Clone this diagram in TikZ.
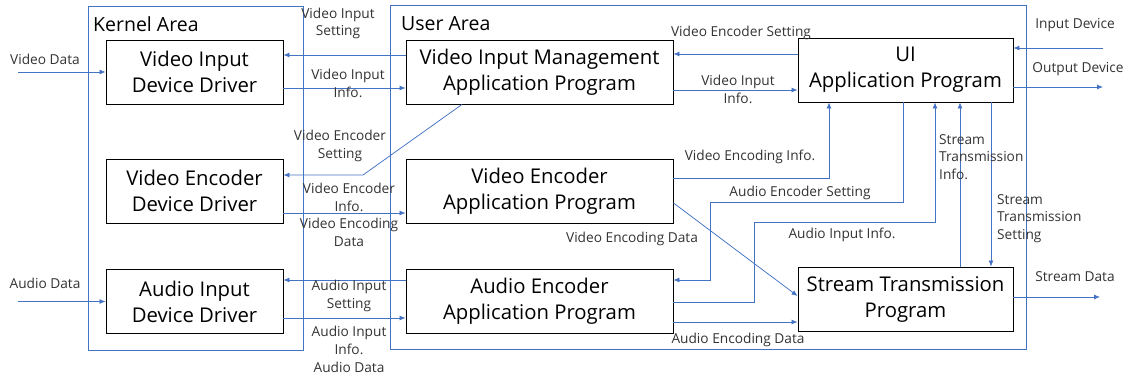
\documentclass[tikz,border=0pt]{standalone}
\usepackage{fontspec}
\setmainfont{Open Sans}
\usetikzlibrary{arrows.meta}
\definecolor{linkblue}{HTML}{4472C4}

\begin{document}
\begin{tikzpicture}[x=1pt, y=-1pt,
    box/.style={draw, line width=0.9pt, minimum height=64pt, inner sep=0pt, align=center, font=\fontsize{20.3}{26}\selectfont},
    lbl/.style={inner sep=0pt, align=center, text=black!80, font=\fontsize{13.7}{17.8}\selectfont},
    link/.style={draw=linkblue, line width=0.75pt, -{Latex[length=6pt,width=5pt]}},
    area/.style={draw=linkblue, line width=0.8pt}]
    \useasboundingbox (0,0) rectangle (1131,379);

        % areas
        \draw[area] (88,6) rectangle (303,350);
        \draw[area] (390,5) rectangle (1026,349);
        \node[anchor=west, inner sep=0pt, font=\fontsize{19.5}{22}\selectfont] (kern) at (93,24) {Kernel Area};
        \node[anchor=west, inner sep=0pt, font=\fontsize{19.5}{22}\selectfont] (user) at (401,24) {User Area};

        % kernel side
        \node[box, minimum width=177pt] (vidd) at (194.5,72) {Video Input\\Device Driver};
        \node[box, minimum width=177pt] (vedd) at (194.5,191) {Video Encoder\\Device Driver};
        \node[box, minimum width=177pt] (aidd) at (194.5,301.5) {Audio Input\\Device Driver};

        % user side
        \node[box, minimum width=267pt] (vimap) at (539.5,72) {Video Input Management\\Application Program};
        \node[box, minimum width=267pt] (veap) at (539.5,191) {Video Encoder\\Application Program};
        \node[box, minimum width=267pt] (aeap) at (539.5,301.5) {Audio Encoder\\Application Program};
        \node[box, minimum width=215pt] (ui) at (905.5,70) {UI\\Application Program};
        \node[box, minimum width=215pt] (stp) at (905.5,299) {Stream Transmission\\Program};

        % outside ends
        \coordinate (vin) at (18,72);
        \coordinate (ain) at (18,301.5);
        \coordinate (idev) at (1103,48);
        \coordinate (odev) at (1103,87);
        \coordinate (sout) at (1100,297);

        \draw[link] (vin) -- (vidd);
        \draw[link] (ain) -- (aidd);
        \draw[link] ([yshift=17pt]vimap.west) -- ([yshift=17pt]vidd.east);
        \draw[link] ([yshift=-16pt]vidd.east) -- ([yshift=-16pt]vimap.west);
        \draw[link] ([xshift=-77.5pt]vimap.south) -- (363,175) -- ([yshift=16pt]vedd.east);
        \draw[link] ([yshift=-22pt]vedd.east) -- ([yshift=-22pt]veap.west);
        \draw[link] ([yshift=21.5pt]aeap.west) -- ([yshift=21.5pt]aidd.east);
        \draw[link] ([yshift=-16.5pt]aidd.east) -- ([yshift=-16.5pt]aeap.west);

        \draw[link] ([yshift=16pt]ui.west) -- ([yshift=18pt]vimap.east);
        \draw[link] ([yshift=-18pt]vimap.east) -- ([yshift=-20pt]ui.west);
        \draw[link] (idev) -- ([yshift=22pt]ui.east);
        \draw[link] ([yshift=-17pt]ui.east) -- (odev);
        \draw[link] ([yshift=13pt]veap.east) -| ([xshift=-76.5pt]ui.south);
        \draw[link] ([xshift=-2.5pt]ui.south) |- (710,202) |- ([yshift=21.5pt]aeap.east);
        \draw[link] ([yshift=-0.5pt]aeap.east) -| (754,222) -| ([xshift=29.5pt]ui.south);
        \draw[link] ([xshift=54.5pt]stp.north) -- ([xshift=54.5pt]ui.south);
        \draw[link] ([xshift=85.5pt]ui.south) -- ([xshift=85.5pt]stp.north);
        \draw[link] ([yshift=-12pt]veap.east) -- ([yshift=3pt]stp.west);
        \draw[link] ([yshift=-20.5pt]aeap.east) -- ([yshift=-20.5pt]aeap.east -| stp.west);
        \draw[link] ([yshift=2pt]stp.east) -- (sout);

        % labels
        \node[lbl] (lvd) at (45,59) {Video Data};
        \node[lbl] (lad) at (45,283) {Audio Data};
        \node[lbl] (lvis) at (338,23.5) {Video Input\\Setting};
        \node[lbl] (lvii) at (348,83.5) {Video Input\\Info.};
        \node[lbl] (lves) at (340,146) {Video Encoder\\Setting};
        \node[lbl] (lvei) at (349,197) {Video Encoder\\Info.};
        \node[lbl] (lved) at (349,232.5) {Video Encoding\\Data};
        \node[lbl] (lais) at (349,296) {Audio Input\\Setting};
        \node[lbl] (laii) at (349,349.5) {Audio Input\\Info.\\Audio Data};
        \node[lbl] (lves2) at (741,33) {Video Encoder Setting};
        \node[lbl] (lvii2) at (738,89) {Video Input\\Info.};
        \node[lbl] (lidev) at (1075,25) {Input Device};
        \node[lbl] (lodev) at (1078,69) {Output Device};
        \node[lbl] (lvei2) at (750,157) {Video Encoding Info.};
        \node[lbl] (laes) at (800,193) {Audio Encoder Setting};
        \node[lbl] (laii2) at (842,235) {Audio Input Info.};
        \node[lbl] (lved2) at (632,239) {Video Encoding Data};
        \node[lbl] (laed) at (738,340) {Audio Encoding Data};
        \node[lbl, anchor=west, align=left] (lsti) at (939,157) {Stream\\Transmission\\Info.};
        \node[lbl, anchor=west, align=left] (lsts) at (997,218.5) {Stream\\Transmission\\Setting};
        \node[lbl] (lsd) at (1075,277) {Stream Data};

\end{tikzpicture}
\end{document}
